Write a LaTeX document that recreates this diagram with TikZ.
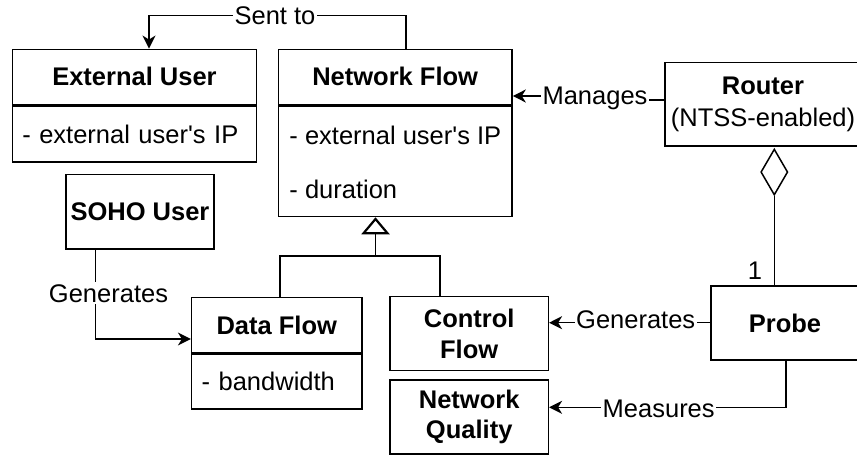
\documentclass[tikz,border=0pt]{standalone}
\usepackage{fontspec}
\setmainfont{Liberation Sans}
\usetikzlibrary{arrows.meta,shapes.geometric,calc}
\begin{document}
\begin{tikzpicture}[x=1pt,y=-1pt, line width=1.5pt,
  box/.style={draw, line width=1.5pt, inner sep=0pt, font=\fontsize{25.5}{30.5}\selectfont, align=center},
  ttl/.style={box, font=\fontsize{25.5}{30.5}\selectfont\bfseries},
  attr/.style={box, align=left, inner xsep=10pt},
  txt/.style={inner sep=0pt, font=\fontsize{25.5}{30.5}\selectfont, text height=18.3pt, text depth=0pt},
  lbl/.style={txt, fill=white, inner xsep=1.5pt, inner ysep=2pt},
  arr/.style={-{Stealth[length=13pt,width=13pt,inset=4pt]}},
  gentip/.style={-{Triangle[open,length=17pt,width=28pt,line width=2.2pt]}},
]
\useasboundingbox (0,0) rectangle (857,455);
\clip (0,0) rectangle (857,455);

% External User
\node[ttl, minimum width=244.4pt, minimum height=55pt] (extT) at (134.5,76.8) {External User};
\node[attr, text width=224.4pt, minimum height=56.4pt, anchor=north] (extA) at (extT.south) {- external user\textquotesingle s IP};

% Network Flow
\node[ttl, minimum width=233.7pt, minimum height=55pt] (nfT) at (395.2,76.8) {Network Flow};
\node[box, minimum width=233.7pt, minimum height=110.7pt, anchor=north] (nfA) at (nfT.south) {};
\node[txt, anchor=west] (nfA1) at (288.7,135) {- external user\textquotesingle s IP};
\node[txt, anchor=west] (nfA2) at (288.7,189) {- duration};

% Router
\node[box, minimum width=196pt, minimum height=83.3pt] (router) at (763,104.3) {\textbf{Router}\\[2pt](NTSS-enabled)};
\node[diamond, draw, fill=white, line width=1.5pt, minimum width=27pt, minimum height=46pt, inner sep=0pt, anchor=north] (dia) at (774.3,148.3) {};

% Probe
\node[ttl, minimum width=148pt, minimum height=74pt] (probe) at (785,323) {Probe};
\node[txt] (one) at (755,270) {1};

% SOHO User
\node[ttl, minimum width=148pt, minimum height=74.7pt] (soho) at (140,211.7) {SOHO User};

% Data Flow
\node[ttl, minimum width=170.3pt, minimum height=55.4pt] (dfT) at (276.8,325) {Data Flow};
\node[attr, text width=150.3pt, minimum height=55pt, anchor=north] (dfA) at (dfT.south) {- bandwidth};

% Control Flow, Network Quality
\node[ttl, minimum width=158.3pt, minimum height=74pt] (cf) at (469.2,333.7) {Control\\Flow};
\node[ttl, minimum width=158.3pt, minimum height=74pt] (nq) at (469.2,417) {Network\\Quality};

% Sent to
\coordinate (st1) at (406,15.7);
\coordinate (st2) at (149,15.7);
\draw[arr] (nfT.north -| st1) -- (st1) -- (st2) -- (extT.north -| st2);
\node[lbl] (stL) at (275,15.7) {Sent to};

% Manages
\coordinate (mj) at (595,96);
\draw[arr] ([yshift=4.3pt]router.west) -| (mj) -- (nfT.east |- mj);
\node[lbl] (manL) at (595,95.7) {Manages};

% Aggregation
\draw (dia.south) -- (dia.south |- probe.north);

% Probe generates control flow
\coordinate (pg) at (636,322.7);
\draw[arr] (probe.west |- pg) -- (cf.east |- pg);
\node[lbl] (pgL) at (635.7,319) {Generates};

% Measures
\coordinate (mm) at (786,407.3);
\draw[arr] (probe.south -| mm) -- (mm) -- (nq.east |- mm);
\node[lbl] (mmL) at (658.7,408) {Measures};

% SOHO generates data flow
\coordinate (sg) at (95.7,339);
\draw[arr] (soho.south -| sg) -- (sg) -- (dfT.west |- sg);
\node[lbl] (sgL) at (108.5,293.3) {Generates};

% Generalization
\coordinate (gj) at (375.5,256);
\coordinate (gl) at (280,256);
\coordinate (gr) at (440,256);
\draw (dfT.north -| gl) -- (gl) -- (gr) -- (cf.north -| gr);
\draw[gentip] (gj) -- (nfA.south -| gj);
\end{tikzpicture}
\end{document}
